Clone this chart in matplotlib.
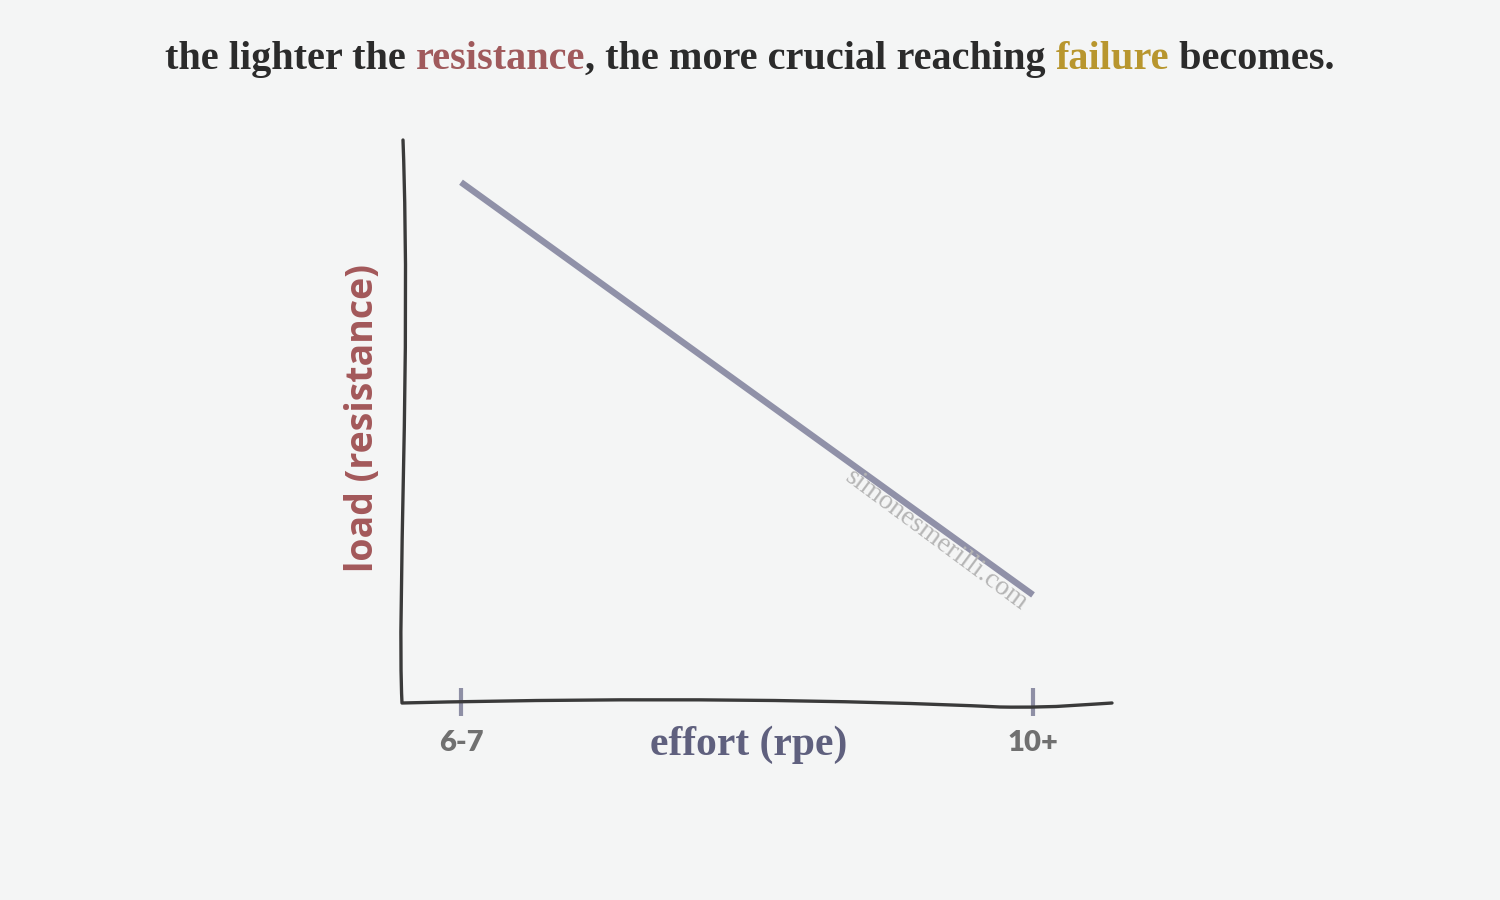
import matplotlib
matplotlib.use("Agg")
import matplotlib.pyplot as plt
from matplotlib.path import Path
from matplotlib.patches import PathPatch

# ---- data ----
categories = ["6-7", "10+"]
cat_pos = [0, 1]
load_values = [0.925, 0.192]
x_label = "effort (rpe)"
y_label = "load (resistance)"
title_parts = [("the lighter the ", "#2b2b2b"), ("resistance", "#a05a5c"),
               (", the more crucial reaching ", "#2b2b2b"), ("failure", "#b8962e"),
               (" becomes.", "#2b2b2b")]
watermark = "simonesmerilli.com"

W, H = 1500, 900
fig = plt.figure(figsize=(15, 9), dpi=100)
fig.patch.set_facecolor("#f4f5f5")
ax = fig.add_axes([0, 0, 1, 1])
ax.set_facecolor("#f4f5f5")
# pixel mapping: x=0 -> 461px, x=1 -> 1033px ; y=0 -> 703px, y=1 -> 140px
px_per_x = 1033 - 461
px_per_y = 703 - 140
ax.set_xlim(-461 / px_per_x, (W - 461) / px_per_x)
ax.set_ylim((703 - H) / px_per_y, 703 / px_per_y)
ax.axis("off")

def fig_xy(px, py):
    return (px / W, 1 - py / H)

# hand-drawn axes (figure coords)
verts = [fig_xy(403, 140), fig_xy(411, 360), fig_xy(397, 600), fig_xy(402, 703),
         fig_xy(650, 697), fig_xy(850, 700), fig_xy(1000, 707),
         fig_xy(1060, 708), fig_xy(1090, 704), fig_xy(1112, 703)]
codes = [Path.MOVETO, Path.CURVE4, Path.CURVE4, Path.CURVE4,
         Path.CURVE4, Path.CURVE4, Path.CURVE4,
         Path.CURVE4, Path.CURVE4, Path.CURVE4]
fig.add_artist(PathPatch(Path(verts, codes), transform=fig.transFigure,
                         facecolor="none", edgecolor="#3a3a3a", lw=2.4,
                         capstyle="round", joinstyle="round"))

# main line
ax.plot(cat_pos, load_values, color="#9091a8", lw=4.6, solid_capstyle="butt", zorder=3)

# ticks
for xp in cat_pos:
    ax.plot([xp, xp], [(703 - 688) / px_per_y, (703 - 716) / px_per_y],
            color="#8e8fa5", lw=3.0, solid_capstyle="butt", zorder=4)

# tick labels
for xp, lab in zip(cat_pos, categories):
    ax.text(xp, (703 - 743) / px_per_y, lab, ha="center", va="center",
            fontsize=21, fontweight="heavy", color="#707070", family="Lato")

# axis labels
ax.text((749 - 461) / px_per_x, (703 - 745) / px_per_y, x_label, ha="center", va="center",
        fontsize=30, fontweight="bold", color="#5f607e", family="Liberation Serif")
ax.text((363 - 461) / px_per_x, (703 - 418) / px_per_y, y_label, ha="center", va="center",
        rotation=90, fontsize=27, fontweight="bold", color="#a3585a", family="Open Sans")

# watermark
ax.text((936 - 461) / px_per_x, (703 - 540) / px_per_y, watermark, ha="center", va="center",
        rotation=-36.5, fontsize=20, color="#b5b5b5", family="Liberation Serif", zorder=5)

# multi-colored title
fig.canvas.draw()
renderer = fig.canvas.get_renderer()
texts = []
for s, c in title_parts:
    t = fig.text(0, 0, s, fontsize=29, fontweight="bold", color=c,
                 family="Liberation Serif", va="baseline", ha="left")
    texts.append(t)
widths = [t.get_window_extent(renderer=renderer).width for t in texts]
total = sum(widths)
cur = (W - total) / 2
for t, w in zip(texts, widths):
    t.set_position((cur / W, 1 - 69 / H))
    cur += w

fig.savefig("out.png", dpi=100, facecolor=fig.get_facecolor())
